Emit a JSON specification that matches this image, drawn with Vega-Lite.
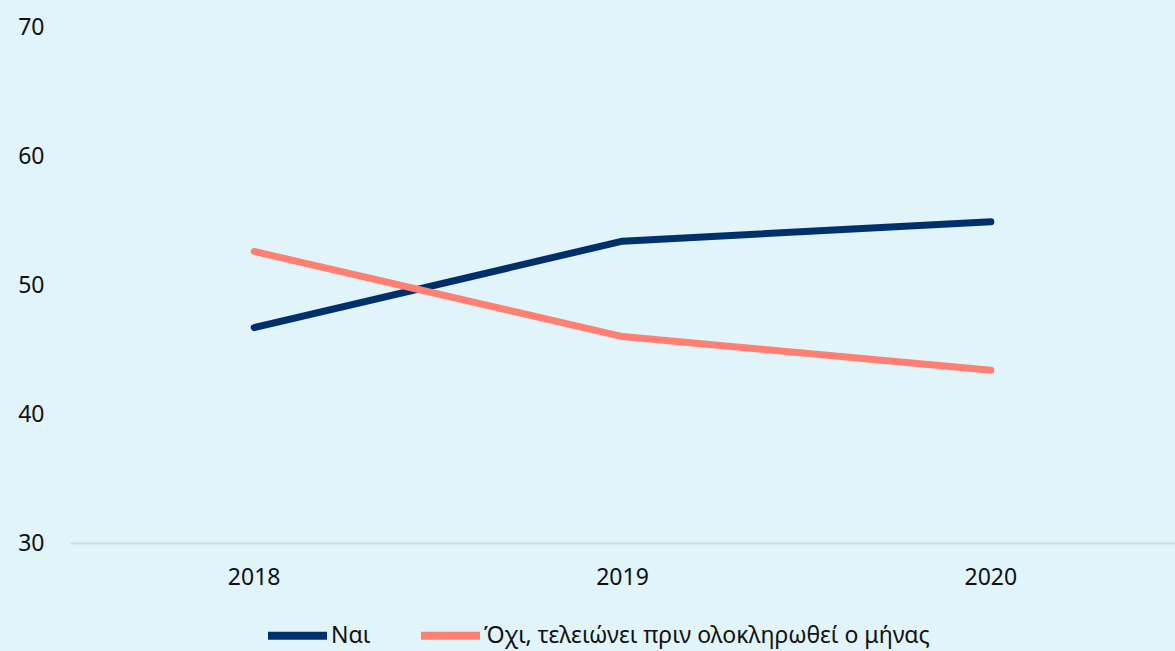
{
  "$schema": "https://vega.github.io/schema/vega-lite/v6.json",
  "autosize": {"type": "none"},
  "width": 1105,
  "height": 516,
  "padding": {"left": 70, "top": 27, "right": 0, "bottom": 108},
  "background": "#e0f4fa",
  "config": {
    "view": {"stroke": null},
    "font": "Noto Sans",
    "axis": {"labelFont": "Noto Sans", "labelColor": "#111111", "labelFontSize": 23}
  },
  "data": {
    "values": [
      {"year": "2018", "series": "Ναι", "value": 46.7},
      {"year": "2019", "series": "Ναι", "value": 53.4},
      {"year": "2020", "series": "Ναι", "value": 54.9},
      {"year": "2018", "series": "Όχι, τελειώνει πριν ολοκληρωθεί ο μήνας", "value": 52.6},
      {"year": "2019", "series": "Όχι, τελειώνει πριν ολοκληρωθεί ο μήνας", "value": 46.0},
      {"year": "2020", "series": "Όχι, τελειώνει πριν ολοκληρωθεί ο μήνας", "value": 43.4}
    ]
  },
  "mark": {"type": "line", "strokeWidth": 7, "strokeCap": "round", "strokeJoin": "round"},
  "encoding": {
    "x": {
      "field": "year", "type": "ordinal",
      "scale": {"type": "band", "paddingInner": 0, "paddingOuter": 0},
      "axis": {"title": null, "labelAngle": 0, "ticks": false, "domainColor": "#d9d9d9", "domainWidth": 2, "labelPadding": 23, "grid": false}
    },
    "y": {
      "field": "value", "type": "quantitative",
      "scale": {"domain": [30, 70], "nice": false, "zero": false},
      "axis": {"title": null, "values": [30, 40, 50, 60, 70], "domain": false, "ticks": false, "grid": false, "labelPadding": 26}
    },
    "color": {
      "field": "series", "type": "nominal",
      "scale": {"domain": ["Ναι", "Όχι, τελειώνει πριν ολοκληρωθεί ο μήνας"], "range": ["#00306b", "#ff8073"]},
      "legend": {
        "title": null, "orient": "none", "direction": "horizontal",
        "legendX": 194, "legendY": 575,
        "symbolType": "stroke", "symbolSize": 3481, "symbolStrokeWidth": 8,
        "labelFontSize": 23, "labelFont": "Noto Sans", "labelColor": "#111111",
        "labelOffset": 0, "columnPadding": 34, "labelLimit": 600
      }
    }
  }
}
